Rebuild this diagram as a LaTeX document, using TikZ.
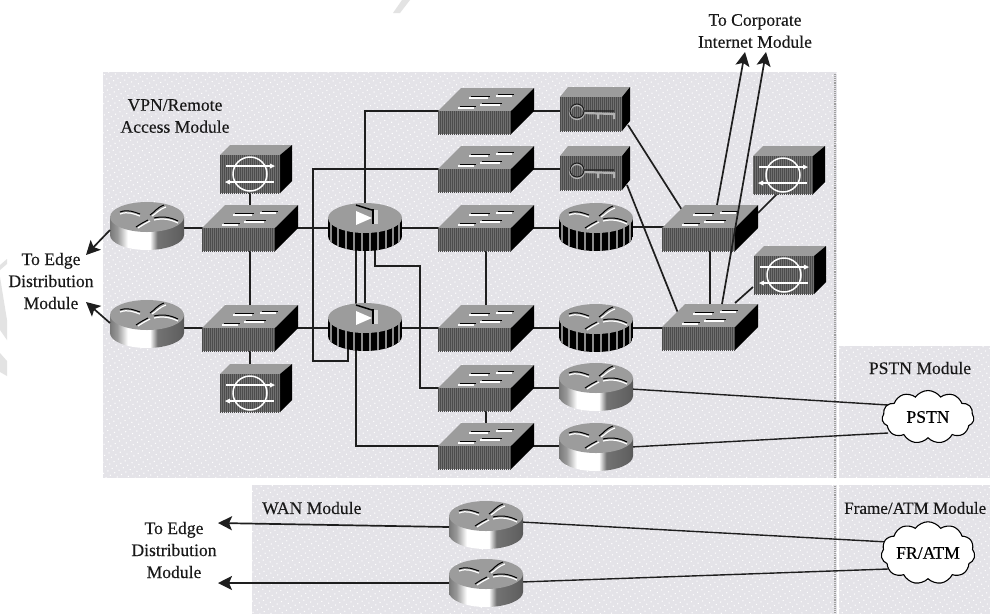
\documentclass[tikz,border=0pt]{standalone}
\usepackage{fontspec}
\setmainfont{Liberation Serif}
\newfontfamily\lblfont{Liberation Serif}[FakeBold=0.25]
\usetikzlibrary{arrows.meta,patterns.meta,shapes.symbols}
\definecolor{panelgray}{HTML}{E4E3E8}
\definecolor{topgray}{HTML}{9C9C9C}
\definecolor{frontgray}{HTML}{707070}
\definecolor{inkdark}{HTML}{1E1E1E}
\definecolor{ghost}{HTML}{E3E3E3}
\pgfdeclarehorizontalshading{routerbody}{100bp}{
 color(0bp)=(black!75); color(20bp)=(black!65); color(30bp)=(black!40); color(37bp)=(white); color(52bp)=(white);
 color(57bp)=(black!55); color(72bp)=(black!62); color(85bp)=(black!80); color(100bp)=(black)}
\tikzset{
 devbox/.style={inner sep=0pt,outer sep=0pt,draw=none},
 label text/.style={inner sep=0pt,align=center,text=black!90,font=\lblfont\fontsize{17.6}{22}\selectfont},
 wire/.style={draw=inkdark,line width=1.7pt},
 outarrow/.style={draw=inkdark,line width=1.7pt,-{Stealth[length=14pt,width=14pt,inset=3pt]}},
 panel/.style={fill=panelgray,postaction={pattern={Dots[radius=.75pt,distance=5pt,angle=30]},pattern color=white}},
 edge/.style={draw=black!38,line width=1.1pt,densely dotted},
 front/.style={fill=frontgray,postaction={pattern={Lines[angle=90,distance=2pt,line width=.9pt]},pattern color=black!70}},
 cloudnode/.style={cloud,draw=black,line width=1.1pt,fill=white,cloud puffs=11,cloud puff arc=110,aspect=1.75,inner sep=0pt,minimum width=92pt,minimum height=53pt,font=\lblfont\fontsize{17.6}{22}\selectfont},
}
\newcommand{\devnode}[5]{\node[devbox,minimum width=#4pt,minimum height=#5pt] (#1) at ({#2+#4/2},{#3+#5/2}) {};}
\newcommand{\hw}[2]{\draw[wire] (#1.center |- #2.center) -- (#2.center);}
\newcommand{\vw}[2]{\draw[wire] (#2.center |- #1.center) -- (#2.center);}
\newcommand{\swart}[1]{\begin{scope}[shift={(#1.north west)}]
 \fill[topgray] (23,0) -- (96,0) -- (73,23) -- (0,23) -- cycle;
 \fill[black] (96,0) -- (96,23) -- (73,46) -- (73,23) -- cycle;
 \path[front] (0,23) rectangle (73,46);
 \draw[black,line width=.9pt] (33,8) -- (52,8) (60,6) -- (76,6) (22,18) -- (38,18) (44,15) -- (64,15);
 \draw[white,line width=1.3pt] (31,10) -- (50,10) (58,8) -- (74,8) (20,20) -- (36,20) (42,17) -- (62,17);
 \end{scope}}
\newcommand{\rtrtop}{
 \fill[topgray] (37,15) ellipse [x radius=37,y radius=15];
 \draw[black,line width=1pt] (10,10) .. controls (18,7) and (24,10) .. (30,12) (40,13) .. controls (45,10) and (46,6) .. (54,3) (26,25) .. controls (32,21) and (34,20) .. (38,18) (44,16) .. controls (52,14) and (60,15) .. (68,19);
 \draw[white,line width=1.2pt] (10,12) .. controls (18,9) and (24,12) .. (30,14) (42,14) .. controls (47,11) and (48,8) .. (56,5) (28,26) .. controls (34,22) and (36,21) .. (40,19) (44,18) .. controls (52,16) and (60,17) .. (68,21);
}
\newcommand{\rtrart}[1]{\begin{scope}[shift={(#1.north west)}]
 \shade[shading=routerbody] (0,15) -- (0,33) arc[start angle=180,end angle=0,x radius=37,y radius=15] -- (74,15) -- cycle;
 \rtrtop
 \end{scope}}
\newcommand{\stripebody}{
 \begin{scope}
 \clip (0,15) -- (0,33) arc[start angle=180,end angle=0,x radius=37,y radius=15] -- (74,15) -- cycle;
 \fill[black] (0,0) rectangle (74,48);
 \foreach \sx in {3,10,18,26,34,42,50,58,65,71} {\draw[black!45,line width=1.4pt] (\sx,15) -- (\sx,48);}
 \end{scope}}
\newcommand{\fwart}[1]{\begin{scope}[shift={(#1.north west)}]
 \stripebody
 \rtrtop
 \end{scope}}
\newcommand{\pixart}[1]{\begin{scope}[shift={(#1.north west)}]
 \stripebody
 \fill[topgray] (37,15) ellipse [x radius=37,y radius=15];
 \draw[black,line width=1.5pt] (28,2) -- (44,7);
 \fill[white] (28,8) -- (44,15) -- (28,22) -- cycle;
 \fill[black] (44,6) rectangle (46,21);
 \fill[white!85!black] (46,7) rectangle (50,21);
 \end{scope}}
\newcommand{\keyart}[1]{\begin{scope}[shift={(#1.north west)}]
 \fill[topgray] (8,0) -- (70,0) -- (62,10) -- (0,10) -- cycle;
 \fill[black] (70,0) -- (70,34) -- (62,44) -- (62,10) -- cycle;
 \path[front] (0,10) rectangle (62,44);
 \draw[black!30,line width=2.2pt] (17,25) circle[radius=7] (24,26) -- (54,27) -- (54,32) (38,27) -- (38,32);
 \draw[inkdark,line width=1.1pt] (17,24) circle[radius=7] (24,24) -- (54,24);
 \end{scope}}
\newcommand{\ringart}[1]{\begin{scope}[shift={(#1.north west)}]
 \fill[topgray] (10,0) -- (72,0) -- (60,10) -- (0,10) -- cycle;
 \fill[black] (72,0) -- (72,36) -- (60,48) -- (60,10) -- cycle;
 \path[front] (0,10) rectangle (60,48);
 \draw[white,line width=1.5pt] (30,29) circle[radius=17];
 \draw[white,line width=1.5pt] (6,21) -- (52,21) (8,37) -- (54,37);
 \fill[white] (55,21) -- (50,18.5) -- (50,23.5) -- cycle (5,37) -- (10,34.5) -- (10,39.5) -- cycle;
 \end{scope}}
\begin{document}
\begin{tikzpicture}[x=1pt,y=-1pt]
\useasboundingbox (0,0) rectangle (990,614);
\fill[white] (0,0) rectangle (990,614);
\fill[ghost] (393,13) -- (400,13) -- (410,0) -- (402,0) -- cycle;
\fill[ghost] (7,259) -- (0,265) -- (0,270) -- (7,264) -- cycle;
\fill[ghost] (0,277) -- (7,320) -- (7,340) -- (0,330) -- cycle;
\fill[ghost] (0,353) -- (7,361) -- (7,376) -- (0,372) -- cycle;
\path[panel] (103,72) rectangle (837,478);
\path[panel] (839,346) rectangle (990,478);
\path[panel] (252,485) rectangle (837,614);
\path[panel] (839,485) rectangle (990,614);
\coordinate (edgeAtop) at (835,74);
\coordinate (edgeAbot) at (835,478);
\coordinate (edgeBtop) at (835,486);
\coordinate (edgeBbot) at (835,614);
\draw[edge] (edgeAtop) -- (edgeAbot);
\draw[edge] (edgeBtop) -- (edgeBbot);
\node[label text] (tvpn) at (175,116) {VPN/Remote\\Access Module};
\node[label text] (tcorp) at (755,31) {To Corporate\\Internet Module};
\node[label text] (tedgeA) at (51,281) {To Edge\\Distribution\\Module};
\node[label text] (tedgeB) at (174,550) {To Edge\\Distribution\\Module};
\node[label text,anchor=west] (twan) at (262,508) {WAN Module};
\node[label text] (tpstn) at (920,368) {PSTN Module};
\node[label text,anchor=west,font=\lblfont\fontsize{17.1}{22}\selectfont] (tframe) at (844,508) {Frame/ATM Module};
\devnode{rA}{110}{202}{74}{48}
\devnode{rB}{110}{300}{74}{48}
\devnode{swLa}{202}{205}{96}{46}
\devnode{swLb}{202}{305}{96}{46}
\devnode{rgLa}{220}{145}{72}{48}
\devnode{rgLb}{220}{364}{72}{48}
\devnode{pixA}{328}{203}{74}{48}
\devnode{pixB}{328}{303}{74}{48}
\devnode{swT}{438}{88}{96}{46}
\devnode{swU}{438}{146}{96}{46}
\devnode{swM}{438}{205}{96}{46}
\devnode{swN}{438}{305}{96}{46}
\devnode{swO}{438}{365}{96}{46}
\devnode{swP}{438}{423}{96}{46}
\devnode{keyA}{560}{87}{70}{44}
\devnode{keyB}{560}{146}{70}{44}
\devnode{fwA}{559}{203}{74}{48}
\devnode{fwB}{559}{304}{74}{48}
\devnode{rC}{559}{363}{74}{48}
\devnode{rD}{559}{423}{74}{48}
\devnode{swRa}{662}{205}{96}{46}
\devnode{swRb}{662}{304}{96}{46}
\devnode{rgRa}{753}{146}{72}{48}
\devnode{rgRb}{754}{246}{72}{48}
\devnode{rW}{449}{501}{74}{48}
\devnode{rX}{449}{559}{74}{48}
\coordinate (pstnFrame) at (928,417);
\coordinate (fratmFrame) at (928,553);
\coordinate (bendA) at (313,361);
\coordinate (bendB) at (420,266);
\coordinate (inetA) at (745,52);
\coordinate (inetB) at (766,52);
\coordinate (edgeTipA) at (86,255);
\coordinate (edgeTipB) at (86,302);
\coordinate (wanTipA) at (218,523);
\coordinate (wanTipB) at (218,583);
\hw{rA}{swLa} \hw{rB}{swLb}
\hw{pixA}{swLa} \hw{pixB}{swLb}
\vw{rgLa}{swLa} \vw{swLb}{swLa} \vw{rgLb}{swLb}
\hw{pixA}{swM} \hw{pixB}{swN}
\hw{fwA}{swM} \hw{fwB}{swN}
\hw{swRa}{fwA} \hw{swRb}{fwB}
\vw{swN}{swM} \vw{swP}{swO}
\hw{keyA}{swT} \hw{keyB}{swU}
\hw{rC}{swO} \hw{rD}{swP}
\vw{swRb}{swRa}
\draw[wire] (pixA.center) |- (swT.center);
\draw[wire] (swU.center) -| (bendA) -- ([xshift=-17pt]pixB.center |- bendA) -- ([xshift=-17pt]pixB.center);
\draw[wire] ([xshift=-9pt]pixA.center) -- ([xshift=-9pt]pixB.center);
\draw[wire] (pixA.center) -- (pixB.center);
\draw[wire] ([xshift=10pt]pixA.center) |- (bendB) |- (swO.center);
\draw[wire] ([xshift=-9pt]pixB.center) |- (swP.center);
\draw[wire] ([shift={(33,16)}]keyA.center) -- ([shift={(-28,-18)}]swRa.center);
\draw[wire] ([shift={(32,17)}]keyB.center) -- ([shift={(-32,-14)}]swRb.center);
\draw[wire] ([shift={(-11,23)}]rgRa.center) -- ([shift={(48,-15)}]swRa.center);
\draw[wire] ([shift={(-37,17)}]rgRb.center) -- ([shift={(25,-24)}]swRb.center);
\draw[wire,line width=1.4pt] ([shift={(35,2)}]rC.center) -- ([shift={(-40,-12)}]pstnFrame);
\draw[wire,line width=1.4pt] ([shift={(35,0)}]rD.center) -- ([shift={(-40,16)}]pstnFrame);
\draw[wire,line width=1.4pt] ([shift={(35,-3)}]rW.center) -- ([shift={(-40,-11)}]fratmFrame);
\draw[wire,line width=1.4pt] ([shift={(35,-1)}]rX.center) -- ([shift={(-40,16)}]fratmFrame);
\foreach \d in {rA,rB,rC,rD,rW,rX} {\rtrart{\d}}
\foreach \d in {fwA,fwB} {\fwart{\d}}
\foreach \d in {pixA,pixB} {\pixart{\d}}
\foreach \d in {swLa,swLb,swT,swU,swM,swN,swO,swP,swRa,swRb} {\swart{\d}}
\foreach \d in {keyA,keyB} {\keyart{\d}}
\foreach \d in {rgLa,rgLb,rgRa,rgRb} {\ringart{\d}}
\node[cloudnode] (pstn) at (pstnFrame) {PSTN};
\node[cloudnode] (fratm) at (fratmFrame) {FR/ATM};
\draw[outarrow] ([xshift=7pt]swRa.north) -- (inetA);
\draw[outarrow] ([xshift=12pt]swRb.north) -- (inetB);
\draw[outarrow] ([shift={(-37,4)}]rA.center) -- (edgeTipA);
\draw[outarrow] ([shift={(-37,-1)}]rB.center) -- (edgeTipB);
\draw[outarrow] ([xshift=-37pt,yshift=-2pt]rW.center) -- (wanTipA);
\draw[outarrow] ([xshift=-37pt,yshift=0pt]rX.center) -- (wanTipB);
\end{tikzpicture}
\end{document}
